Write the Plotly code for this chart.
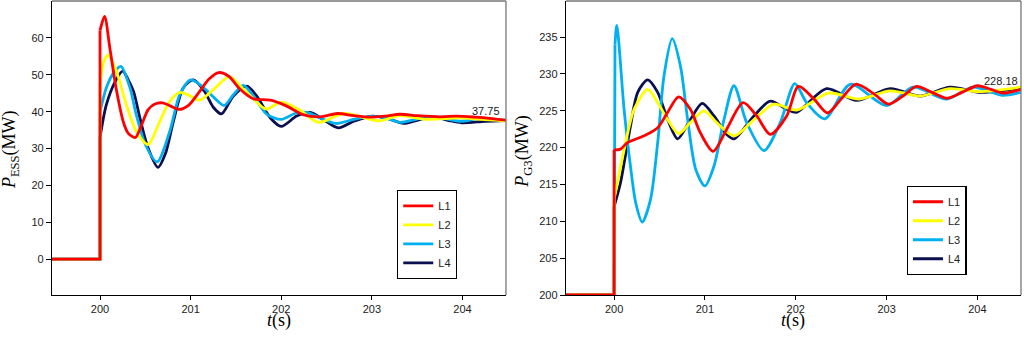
import plotly.graph_objects as go

# ---------------- data: left panel (P_ESS, MW) ----------------
# first two points: flat pre-disturbance level; third point: value right after the step at t=200
ess_t_L1 = [199.47, 200.0, 200.0, 200.05, 200.11, 200.18, 200.26, 200.31, 200.39, 200.46, 200.53, 200.60, 200.69,
            200.78, 200.87, 200.98, 201.10, 201.20, 201.31, 201.42, 201.55, 201.69, 201.88, 202.06, 202.24, 202.43,
            202.62, 202.80, 202.98, 203.15, 203.31, 203.50, 203.75, 203.94, 204.15, 204.30, 204.49]
ess_v_L1 = [0, 0, 62, 65.8, 57, 46, 37, 34.2, 33.0, 36.5, 40.5, 42.0, 42.4,
            41.5, 40.6, 41.8, 45.5, 48.8, 50.6, 49.6, 46.0, 43.5, 43.1, 41.5, 39.2, 38.6,
            39.5, 38.9, 38.5, 38.8, 39.3, 38.9, 38.6, 38.8, 38.5, 38.2, 37.7]

ess_t_L2 = [199.47, 200.0, 200.0, 200.04, 200.09, 200.18, 200.29, 200.40, 200.53, 200.66, 200.77, 200.88, 201.0,
            201.10, 201.25, 201.43, 201.55, 201.70, 201.83, 202.0, 202.2, 202.41, 202.69, 203.02, 203.09, 203.31,
            203.6, 203.97, 204.2, 204.49]
ess_v_L2 = [0, 0, 47, 53.5, 55.3, 51, 41.9, 34.7, 31.1, 37.4, 42.8, 45.2, 44.2,
            43.1, 46.0, 49.5, 46.9, 43.3, 40.7, 42.6, 40.5, 37.1, 39.5, 37.7, 37.5, 38.9,
            37.9, 38.3, 37.9, 37.5]

ess_t_L3 = [199.47, 200.0, 200.0, 200.07, 200.15, 200.23, 200.33, 200.40, 200.50, 200.63, 200.77, 200.88,
            201.0, 201.12, 201.25, 201.37, 201.47, 201.58, 201.70, 201.84, 202.0, 202.15, 202.28, 202.43, 202.60,
            202.80, 202.98, 203.15, 203.31, 203.5, 203.68, 203.97, 204.2, 204.49]
ess_v_L3 = [0, 0, 40, 46.5, 50.5, 52.3, 46.5, 39.2, 31.1, 26.4, 34.7, 44.6,
            48.6, 47.0, 44.0, 41.7, 44.5, 47.1, 44.0, 39.3, 37.9, 39.5, 39.8, 38.3, 36.8,
            37.9, 38.7, 38.3, 37.1, 38.0, 38.6, 37.4, 38.2, 37.6]

ess_t_L4 = [199.47, 200.0, 200.0, 200.07, 200.17, 200.25, 200.31, 200.37, 200.44, 200.53, 200.64, 200.72,
            200.81, 200.92, 201.03, 201.15, 201.25, 201.34, 201.47, 201.62, 201.73, 201.88, 202.0, 202.17, 202.32,
            202.46, 202.63, 202.80, 203.0, 203.17, 203.35, 203.52, 203.68, 203.85, 203.99, 204.25, 204.49]
ess_v_L4 = [0, 0, 33, 41.9, 48.3, 51.0, 48.7, 45.5, 38.3, 30.2, 24.9, 28.5,
            37.4, 46.5, 48.6, 45.6, 41.2, 39.4, 44.2, 46.9, 44.2, 38.3, 36.0, 38.8, 39.8,
            37.9, 35.6, 37.4, 38.8, 38.2, 36.8, 37.8, 38.6, 37.6, 37.0, 37.4, 37.6]

# ---------------- data: right panel (P_G3, MW) ----------------
g3_t_L1 = [199.47, 200.0, 200.0, 200.07, 200.15, 200.33, 200.48, 200.59, 200.71, 200.84, 200.95, 201.09,
           201.24, 201.42, 201.57, 201.72, 201.90, 202.03, 202.20, 202.35, 202.50, 202.66, 202.85, 203.02, 203.18,
           203.33, 203.50, 203.67, 203.83, 204.0, 204.15, 204.28, 204.48]
g3_v_L1 = [200, 200, 219.7, 219.8, 220.7, 221.6, 222.7, 224.8, 226.9, 225.2, 222.0, 219.5,
           222.5, 226.1, 224.3, 221.8, 224.3, 228.3, 226.6, 224.7, 226.6, 228.6, 227.4, 225.9, 227.0,
           228.3, 227.5, 226.7, 227.5, 228.4, 227.9, 227.4, 227.9]

g3_t_L2 = [199.47, 200.0, 200.0, 200.11, 200.22, 200.37, 200.48, 200.59, 200.71, 200.84, 200.99, 201.13,
           201.32, 201.54, 201.76, 202.01, 202.36, 202.70, 203.04, 203.37, 203.70, 204.02, 204.48]
g3_v_L2 = [200, 200, 213.0, 219.7, 225.2, 227.9, 226.1, 223.8, 221.9, 223.4, 225.0, 223.4,
           221.6, 223.8, 225.9, 225.1, 227.4, 226.6, 227.7, 227.0, 228.0, 227.6, 228.2]

g3_t_L3 = [199.47, 200.0, 200.01, 200.03, 200.11, 200.18, 200.24, 200.31, 200.40, 200.48, 200.55, 200.64,
           200.73, 200.81, 200.90, 201.0, 201.10, 201.21, 201.32, 201.46, 201.65, 201.83, 201.99, 202.12, 202.32,
           202.60, 203.0, 203.29, 203.66, 203.95, 204.27, 204.48]
g3_v_L3 = [200, 200, 234.0, 236.6, 225.2, 217.5, 212.4, 209.9, 212.9, 220.7, 229.8, 234.8,
           231.1, 223.8, 217.0, 214.8, 217.5, 223.8, 228.4, 223.4, 219.6, 223.4, 228.7, 226.1, 223.9,
           228.6, 225.7, 228.2, 226.6, 228.2, 227.1, 227.5]

g3_t_L4 = [199.47, 200.0, 200.0, 200.07, 200.18, 200.26, 200.37, 200.48, 200.59, 200.70, 200.84, 200.97,
           201.10, 201.24, 201.32, 201.54, 201.72, 201.90, 202.01, 202.34, 202.67, 203.04, 203.37, 203.70, 204.04,
           204.48]
g3_v_L4 = [200, 200, 212.0, 215.2, 222.9, 227.5, 229.2, 227.5, 223.8, 221.2, 223.8, 226.0,
           224.3, 221.8, 221.2, 224.3, 226.3, 225.2, 224.8, 228.0, 226.4, 228.0, 227.0, 228.2, 227.5,
           228.1]

series_names = ["L1", "L2", "L3", "L4"]
series_colors = ["#FF0000", "#FFFF00", "#00B0F0", "#0A0F4F"]

ess_ticks = [0, 10, 20, 30, 40, 50, 60]
g3_ticks = [200, 205, 210, 215, 220, 225, 230, 235]
t_ticks = [200, 201, 202, 203, 204]

ess_final_label = "37.75"
g3_final_label = "228.18"

ess_data = [(ess_t_L1, ess_v_L1), (ess_t_L2, ess_v_L2), (ess_t_L3, ess_v_L3), (ess_t_L4, ess_v_L4)]
g3_data = [(g3_t_L1, g3_v_L1), (g3_t_L2, g3_v_L2), (g3_t_L3, g3_v_L3), (g3_t_L4, g3_v_L4)]

fig = go.Figure()
LW = 2.8


def add_series(t, v, i, xa, ya, lg):
    # step part (flat level + jump at t=200): straight segments
    fig.add_trace(go.Scatter(x=t[:3], y=v[:3], mode="lines", name=series_names[i],
                             line=dict(color=series_colors[i], width=LW), showlegend=False,
                             legendgroup=lg + series_names[i], xaxis=xa, yaxis=ya, legend=lg,
                             hoverinfo="skip"))
    # dynamic response: smooth curve
    fig.add_trace(go.Scatter(x=t[2:], y=v[2:], mode="lines", name=series_names[i],
                             line=dict(color=series_colors[i], width=LW, shape="spline", smoothing=0.8),
                             legendgroup=lg + series_names[i], xaxis=xa, yaxis=ya, legend=lg))


# draw L4 first so L1 is on top
for i in [3, 2, 1, 0]:
    add_series(*ess_data[i], i, "x", "y", "legend")
for i in [3, 2, 1, 0]:
    add_series(*g3_data[i], i, "x2", "y2", "legend2")

tickfont = dict(family="Liberation Sans, Arial", size=11, color="#222")
titlefont = dict(family="Liberation Serif, Times New Roman", size=18, color="#000")
legfont = dict(family="Liberation Sans, Arial", size=11, color="#222")

common_x = dict(tickvals=t_ticks, ticks="outside", ticklen=4, tickcolor="#000", showline=True,
                linecolor="#000", linewidth=1.3, showgrid=False, zeroline=False, tickfont=tickfont,
                range=[199.47, 204.48])
common_y = dict(ticks="outside", ticklen=5, tickcolor="#000", showline=True, linecolor="#000",
                linewidth=1.3, showgrid=False, zeroline=False, tickfont=tickfont)

d1 = [0, 0.4685]
d2 = [0.5304, 1.0]

fig.update_layout(
    width=1024, height=337,
    margin=dict(l=52, r=3, t=1, b=42),
    paper_bgcolor="white", plot_bgcolor="white",
    xaxis=dict(domain=d1, anchor="y", **common_x),
    xaxis2=dict(domain=d2, anchor="y2", **common_x),
    yaxis=dict(anchor="x", range=[-9.7, 70], tickvals=ess_ticks, **common_y),
    yaxis2=dict(anchor="x2", range=[200, 239.9], tickvals=g3_ticks, **common_y),
    legend=dict(x=0.356, y=0.357, xanchor="left", yanchor="top", traceorder="reversed",
                bordercolor="#000", borderwidth=1.3, bgcolor="white", font=legfont),
    legend2=dict(x=0.882, y=0.371, xanchor="left", yanchor="top", traceorder="reversed",
                 bordercolor="#000", borderwidth=1.3, bgcolor="white", font=legfont),
    showlegend=True,
)

# axis titles
fig.add_annotation(xref="paper", yref="paper", x=-0.0433, y=0.493, textangle=-90, showarrow=False,
                   text="<i>P</i><sub>ESS</sub>(MW)", font=titlefont, xanchor="center", yanchor="middle")
fig.add_annotation(xref="paper", yref="paper", x=0.487, y=0.487, textangle=-90, showarrow=False,
                   text="<i>P</i><sub>G3</sub>(MW)", font=titlefont, xanchor="center", yanchor="middle")
fig.add_annotation(xref="x domain", yref="paper", x=0.5, y=-0.0884, showarrow=False,
                   text="<i>t</i>(s)", font=titlefont, xanchor="center", yanchor="middle")
fig.add_annotation(xref="x2 domain", yref="paper", x=0.5, y=-0.0884, showarrow=False,
                   text="<i>t</i>(s)", font=titlefont, xanchor="center", yanchor="middle")

# grey top/right frame
for xd, yd in [("x domain", "y domain"), ("x2 domain", "y2 domain")]:
    fig.add_shape(type="line", xref=xd, yref=yd, x0=0, x1=1, y0=1, y1=1,
                  line=dict(color="#777", width=1.3))
    fig.add_shape(type="line", xref=xd, yref=yd, x0=1, x1=1, y0=0, y1=1,
                  line=dict(color="#777", width=1.3))

fig.add_annotation(x=1, y=40.1, xref="x domain", yref="y", text=ess_final_label, showarrow=False,
                   xanchor="right", yanchor="middle", xshift=-4,
                   font=dict(family="Liberation Sans, Arial", size=11, color="#222"))
fig.add_annotation(x=1, y=229.1, xref="x2 domain", yref="y2", text=g3_final_label, showarrow=False,
                   xanchor="right", yanchor="middle", xshift=-1,
                   font=dict(family="Liberation Sans, Arial", size=11, color="#222"))

fig.write_html("out.html", config={"displayModeBar": False},
               post_script="document.body.style.margin='0';")
